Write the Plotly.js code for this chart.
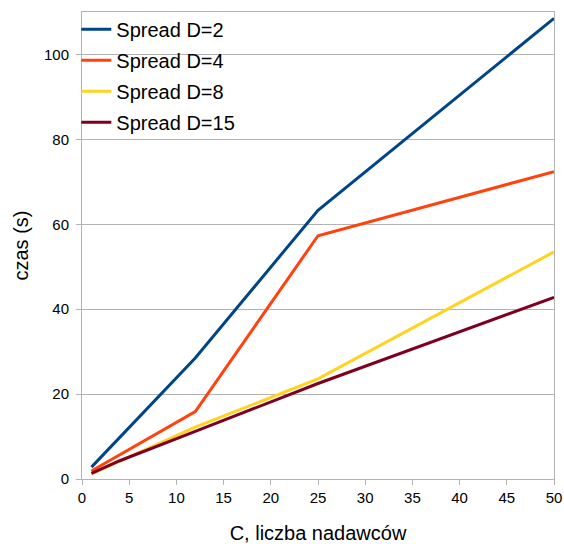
<!DOCTYPE html>
<html>
<head>
<meta charset="utf-8">
<script src="https://cdn.plot.ly/plotly-3.0.1.min.js"></script>
<style>html,body{margin:0;padding:0;background:#fff;}#chart{width:564px;height:544px;}</style>
</head>
<body>
<div id="chart"></div>
<script>
const senders = [1, 4, 12, 25, 50];
const seriesNames = ["Spread D=2", "Spread D=4", "Spread D=8", "Spread D=15"];
const spreadD2 = [2.8, 9.8, 28.5, 63.3, 108.5];
const spreadD4 = [1.9, 5.7, 15.9, 57.3, 72.4];
const spreadD8 = [1.2, 4.2, 12.2, 23.6, 53.5];
const spreadD15 = [1.3, 4.3, 11.2, 22.5, 42.8];
const xTicks = [0, 5, 10, 15, 20, 25, 30, 35, 40, 45, 50];
const yTicks = [0, 20, 40, 60, 80, 100];

const colors = ["#004586", "#ff420e", "#ffd320", "#7e0021"];
const values = [spreadD2, spreadD4, spreadD8, spreadD15];
const traces = values.map((v, i) => ({
  x: senders, y: v, name: seriesNames[i], type: "scatter", mode: "lines",
  legendgroup: "g" + i,
  line: {color: colors[i], width: 3}
}));

const fam = "Liberation Sans, Arial, sans-serif";
const layout = {
  width: 564, height: 544,
  margin: {l: 82, r: 10, t: 12, b: 65},
  paper_bgcolor: "#fff", plot_bgcolor: "#fff",
  font: {family: fam, color: "#000"},
  showlegend: true,
  legend: {x: -0.012, y: 1.005, xanchor: "left", yanchor: "top", bgcolor: "rgba(0,0,0,0)",
    font: {family: fam, size: 20, color: "#000"}, tracegroupgap: 2, itemwidth: 30},
  xaxis: {
    range: [0, 50], tickvals: xTicks, ticktext: xTicks.map(String),
    showgrid: false, zeroline: false, showline: true, linecolor: "#b3b3b3", linewidth: 1, mirror: true,
    ticks: "outside", ticklen: 5, tickcolor: "#b3b3b3",
    tickfont: {family: fam, size: 15, color: "#000"},
    title: {text: "C, liczba nadawców", font: {family: fam, size: 20, color: "#000"}, standoff: 24}
  },
  yaxis: {
    range: [0, 110], tickvals: yTicks, ticktext: yTicks.map(String),
    showgrid: true, gridcolor: "#b3b3b3", gridwidth: 1, zeroline: false,
    showline: true, linecolor: "#b3b3b3", linewidth: 1, mirror: true,
    ticks: "outside", ticklen: 5, tickcolor: "#b3b3b3", ticklabelstandoff: 4,
    tickfont: {family: fam, size: 15, color: "#000"},
    title: {text: "czas (s)", font: {family: fam, size: 20, color: "#000"}, standoff: 9}
  }
};
Plotly.newPlot("chart", traces, layout, {displayModeBar: false, staticPlot: true});
</script>
</body>
</html>
